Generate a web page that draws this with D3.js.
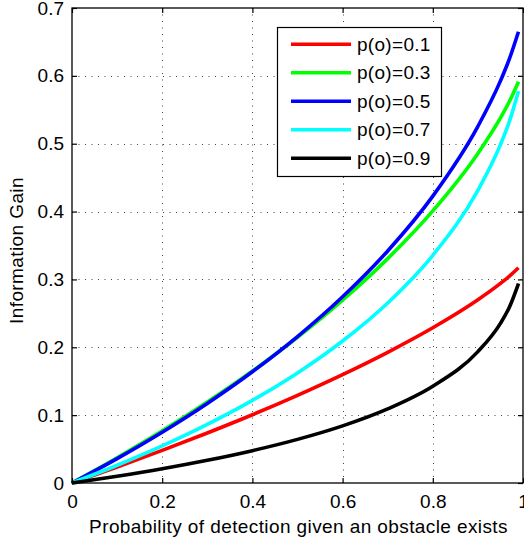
<!DOCTYPE html>
<html>
<head>
<meta charset="utf-8">
<script src="https://cdn.jsdelivr.net/npm/d3@7"></script>
<style>
  html, body { margin: 0; padding: 0; background: #fff; }
  svg { display: block; }
  text { font-family: "Liberation Sans", Arial, Helvetica, sans-serif; fill: #000; }
</style>
</head>
<body>
<svg id="chart" width="524" height="541"></svg>
<script>
// ---- data ----
const xValues = [0, 0.1, 0.2, 0.3, 0.4, 0.5, 0.6, 0.7, 0.8, 0.9, 0.95, 0.97, 0.99];
const seriesNames = ["p(o)=0.1", "p(o)=0.3", "p(o)=0.5", "p(o)=0.7", "p(o)=0.9"];
const seriesColors = ["#ff0000", "#00ff00", "#0000ff", "#00ffff", "#000000"];
const gainP01 = [0, 0.0235, 0.0480, 0.0737, 0.1006, 0.1292, 0.1597, 0.1926, 0.2287, 0.2700, 0.2941, 0.3050, 0.3173];
const gainP03 = [0, 0.0372, 0.0768, 0.1193, 0.1650, 0.2148, 0.2695, 0.3307, 0.4010, 0.4857, 0.5381, 0.5626, 0.5915];
const gainP05 = [0, 0.0360, 0.0749, 0.1173, 0.1639, 0.2158, 0.2744, 0.3420, 0.4228, 0.5256, 0.5926, 0.6253, 0.6651];
const gainP07 = [0, 0.0261, 0.0547, 0.0864, 0.1218, 0.1622, 0.2092, 0.2653, 0.3356, 0.4314, 0.4987, 0.5333, 0.5775];
const gainP09 = [0, 0.0100, 0.0210, 0.0335, 0.0477, 0.0643, 0.0842, 0.1092, 0.1426, 0.1936, 0.2353, 0.2594, 0.2940];
const seriesValues = [gainP01, gainP03, gainP05, gainP07, gainP09];
const xTicks = [0, 0.2, 0.4, 0.6, 0.8, 1];
const xTickLabels = ["0", "0.2", "0.4", "0.6", "0.8", "1"];
const yTicks = [0, 0.1, 0.2, 0.3, 0.4, 0.5, 0.6, 0.7];
const yTickLabels = ["0", "0.1", "0.2", "0.3", "0.4", "0.5", "0.6", "0.7"];
const xLabel = "Probability of detection given an obstacle exists";
const yLabel = "Information Gain";

// ---- layout ----
const L = 72, R = 523, T = 8, B = 483;
const svg = d3.select("#chart");
const x = d3.scaleLinear().domain([0, 1]).range([L, R]);
const y = d3.scaleLinear().domain([0, 0.7]).range([B, T]);
const fs = 19;

// grid
const grid = svg.append("g").attr("stroke", "#444").attr("stroke-width", 1)
  .attr("stroke-dasharray", "1,5.5").attr("fill", "none");
xTicks.filter(v => v > 0 && v < 1).forEach(v => {
  grid.append("line").attr("x1", Math.round(x(v)) + 0.5).attr("x2", Math.round(x(v)) + 0.5)
    .attr("y1", T).attr("y2", B);
});
yTicks.filter(v => v > 0 && v < 0.7).forEach(v => {
  grid.append("line").attr("y1", Math.round(y(v)) + 0.5).attr("y2", Math.round(y(v)) + 0.5)
    .attr("x1", L).attr("x2", R);
});

// curves
const line = d3.line().x((d, i) => x(xValues[i])).y(d => y(d)).curve(d3.curveMonotoneX);
seriesValues.forEach((vals, k) => {
  svg.append("path").datum(vals).attr("d", line)
    .attr("fill", "none").attr("stroke", seriesColors[k])
    .attr("stroke-width", 3.6).attr("stroke-linejoin", "round").attr("stroke-linecap", "butt");
});

// axes
function styleAxis(g, showText) {
  g.select(".domain").remove();
  g.selectAll(".tick line").attr("stroke", "#000").attr("stroke-width", 1.2);
  g.selectAll(".tick text").style("font-size", fs + "px").attr("fill", "#000");
  if (!showText) g.selectAll(".tick text").remove();
}
const xFmt = (d, i) => xTickLabels[i];
const yFmt = (d, i) => yTickLabels[i];
svg.append("g").attr("transform", `translate(0,${B})`)
  .call(d3.axisBottom(x).tickValues(xTicks).tickFormat(xFmt).tickSize(-5).tickPadding(11.5))
  .call(g => styleAxis(g, true));
svg.append("g").attr("transform", `translate(0,${T})`)
  .call(d3.axisTop(x).tickValues(xTicks).tickFormat(xFmt).tickSize(-5))
  .call(g => styleAxis(g, false));
svg.append("g").attr("transform", `translate(${L},0)`)
  .call(d3.axisLeft(y).tickValues(yTicks).tickFormat(yFmt).tickSize(-5).tickPadding(8))
  .call(g => styleAxis(g, true));
svg.append("g").attr("transform", `translate(${R},0)`)
  .call(d3.axisRight(y).tickValues(yTicks).tickFormat(yFmt).tickSize(-5))
  .call(g => styleAxis(g, false));

// box
svg.append("rect").attr("x", L).attr("y", T).attr("width", R - L).attr("height", B - T)
  .attr("fill", "none").attr("stroke", "#000").attr("stroke-width", 1.3);

// axis labels
svg.append("text").attr("x", 298.5).attr("y", 532.5).attr("text-anchor", "middle")
  .style("font-size", fs + "px").style("letter-spacing", "0.4px").text(xLabel);
svg.append("text").attr("transform", "translate(23,250.5) rotate(-90)").attr("text-anchor", "middle")
  .style("font-size", fs + "px").style("letter-spacing", "0.4px").text(yLabel);

// legend
const lg = svg.append("g");
lg.append("rect").attr("x", 277.5).attr("y", 27.5).attr("width", 164).attr("height", 149)
  .attr("fill", "#fff").attr("stroke", "#000").attr("stroke-width", 1.2);
seriesNames.forEach((name, k) => {
  const ry = 44.3 + k * 28.5;
  lg.append("line").attr("x1", 291).attr("x2", 351).attr("y1", ry).attr("y2", ry)
    .attr("stroke", seriesColors[k]).attr("stroke-width", 3.6);
  lg.append("text").attr("x", 357).attr("y", ry).attr("dy", "0.35em")
    .style("font-size", fs + "px").style("letter-spacing", "0.3px").text(name);
});
</script>
</body>
</html>
